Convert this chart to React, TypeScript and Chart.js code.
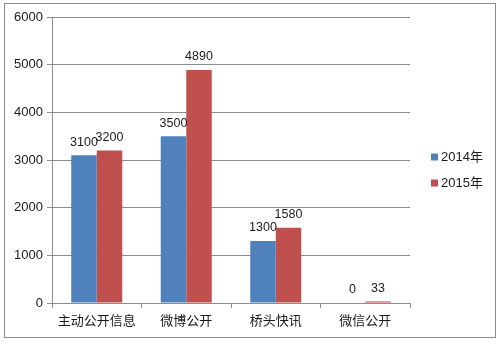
import React, { useEffect, useRef } from "react";
import { Chart, registerables } from "chart.js";

Chart.register(...registerables);

const categories = ["主动公开信息", "微博公开", "桥头快讯", "微信公开"];
const series2014 = [3100, 3500, 1300, 0];
const series2015 = [3200, 4890, 1580, 33];
const seriesLabels = ["2014年", "2015年"];
const seriesColors = ["#4F81BD", "#C0504D"];
const yTicks = [0, 1000, 2000, 3000, 4000, 5000, 6000];

const FONT = "'Liberation Sans', Arial, 'Noto Sans CJK SC', sans-serif";

const framePlugin = {
  id: "frame",
  beforeDraw(chart: any) {
    const ctx = chart.ctx;
    ctx.save();
    ctx.fillStyle = "#ffffff";
    ctx.fillRect(0, 0, chart.width, chart.height);
    ctx.strokeStyle = "#8c8c8c";
    ctx.lineWidth = 1;
    ctx.strokeRect(4.5, 3.5, 491, 334);
    ctx.restore();
  },
};

const labelPlugin = {
  id: "valueLabels",
  afterDatasetsDraw(chart: any) {
    const ctx = chart.ctx;
    ctx.save();
    ctx.font = `12.5px ${FONT}`;
    ctx.fillStyle = "#1a1a1a";
    ctx.textAlign = "center";
    ctx.textBaseline = "middle";
    chart.data.datasets.forEach((ds: any, di: number) => {
      const meta = chart.getDatasetMeta(di);
      meta.data.forEach((el: any, i: number) => {
        ctx.fillText(String(ds.data[i]), el.x, el.y - 13);
      });
    });
    ctx.restore();
  },
};

const legendPlugin = {
  id: "sideLegend",
  afterDraw(chart: any) {
    const ctx = chart.ctx;
    const area = chart.chartArea;
    ctx.save();
    ctx.font = `13px ${FONT}`;
    ctx.textAlign = "left";
    ctx.textBaseline = "middle";
    chart.data.datasets.forEach((ds: any, di: number) => {
      const x = area.right + 21;
      const y = 157 + di * 26;
      ctx.fillStyle = ds.backgroundColor;
      ctx.fillRect(x, y - 3.5, 7, 7);
      ctx.fillStyle = "#1a1a1a";
      ctx.fillText(ds.label, x + 10, y);
    });
    ctx.restore();
  },
};

export default function App() {
  const ref = useRef<HTMLCanvasElement | null>(null);
  useEffect(() => {
    if (!ref.current) return;
    const chart = new Chart(ref.current, {
      type: "bar",
      data: {
        labels: categories,
        datasets: [
          { label: seriesLabels[0], data: series2014, backgroundColor: seriesColors[0] },
          { label: seriesLabels[1], data: series2015, backgroundColor: seriesColors[1] },
        ],
      },
      options: {
        responsive: false,
        animation: false,
        devicePixelRatio: 1,
        layout: { padding: { left: 0, top: 17, right: 89, bottom: 0 } },
        plugins: { legend: { display: false }, tooltip: { enabled: false } },
        datasets: { bar: { categoryPercentage: 0.57, barPercentage: 1 } },
        scales: {
          x: {
            grid: { drawOnChartArea: false, tickLength: 5, color: "#8c8c8c" },
            border: { color: "#8c8c8c" },
            ticks: { padding: 6, color: "#1a1a1a", font: { family: FONT, size: 13 } },
            afterFit: (s: any) => { s.height = 41; },
          },
          y: {
            min: 0,
            max: 6000,
            afterBuildTicks: (s: any) => { s.ticks = yTicks.map((v) => ({ value: v })); },
            grid: { color: "#8c8c8c", tickLength: 5 },
            border: { color: "#8c8c8c" },
            ticks: {
              padding: 4,
              color: "#1a1a1a",
              font: { family: FONT, size: 13 },
              callback: (v: any) => String(v),
            },
            afterFit: (s: any) => { s.width = 52; },
          },
        },
      },
      plugins: [framePlugin, labelPlugin, legendPlugin],
    } as any);
    return () => chart.destroy();
  }, []);
  return (
    <div style={{ position: "fixed", left: 0, top: 0, width: 499, height: 344 }}>
      <canvas ref={ref} width={499} height={344} style={{ display: "block" }} />
    </div>
  );
}
